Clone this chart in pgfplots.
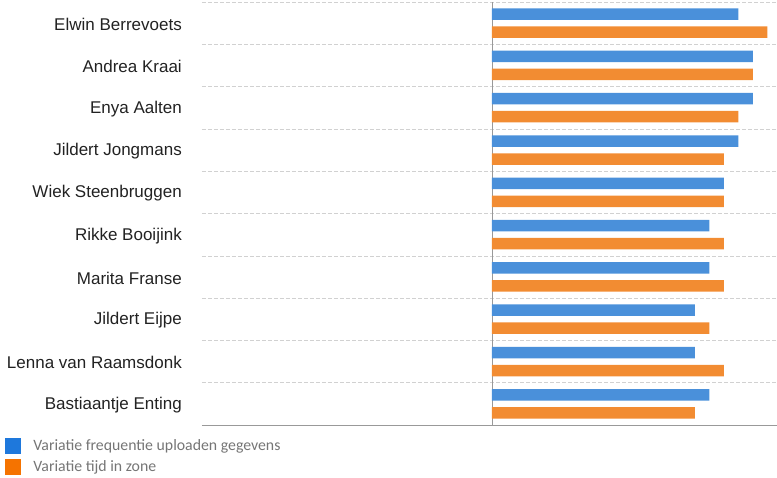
\documentclass[border=0pt]{standalone}
\usepackage{pgfplots}
\pgfplotsset{compat=1.18}
\usepackage{fontspec}
\setmainfont{Liberation Sans}
\newfontfamily\carlito{Carlito}
\definecolor{barblue}{HTML}{4A90DA}
\definecolor{barorange}{HTML}{F28C32}
\definecolor{legblue}{HTML}{1E78DC}
\definecolor{legorange}{HTML}{F57300}
\definecolor{labelgray}{HTML}{222222}
\definecolor{leggray}{HTML}{757575}

\begin{document}
\begin{tikzpicture}
\useasboundingbox (0,0) rectangle (777pt,477pt);
\begin{axis}[
  at={(202pt,52pt)}, anchor=south west,
  width=575pt, height=423pt, scale only axis,
  xmin=-20, xmax=19.66, ymin=-0.5, ymax=9.5,
  xbar, bar width=11.5pt,
  axis x line*=bottom, axis y line*=left,
  x axis line style={draw=black!40, -},
  y axis line style={draw=none},
  xtick=\empty,
  extra x ticks={0}, extra x tick labels={},
  extra x tick style={grid=major, major grid style={draw=black!40}},
  ytick={0,...,9},
  yticklabels={Bastiaantje Enting, Lenna van Raamsdonk, Jildert Eijpe, Marita Franse, Rikke Booijink, Wiek Steenbruggen, Jildert Jongmans, Enya Aalten, Andrea Kraai, Elwin Berrevoets},
  minor ytick={0.5,1.5,...,9.5},
  yminorgrids,
  minor grid style={draw=black!18, dash pattern=on 4pt off 2pt},
  major tick length=0pt, minor tick length=0pt,
  yticklabel style={font=\fontsize{17}{19}\selectfont, text=labelgray, inner sep=0pt, xshift=-20pt, yshift=-1pt},
  legend style={at={(axis description cs:-0.3426,-0.0307)}, anchor=north west,
    draw=none, fill=none, inner sep=0pt, outer sep=0pt, row sep=6pt,
    font=\carlito\fontsize{15.8}{17}\selectfont, text=leggray, nodes={inner sep=0pt}},
  legend cell align=left,
]
  % Variatie frequentie uploaden gegevens
  \addplot[fill=barblue, draw=none, bar shift=9pt, forget plot] coordinates {
    (15,0) (14,1) (14,2) (15,3) (15,4) (16,5) (17,6) (18,7) (18,8) (17,9)};
  % Variatie tijd in zone
  \addplot[fill=barorange, draw=none, bar shift=-9pt, forget plot] coordinates {
    (14,0) (16,1) (15,2) (16,3) (16,4) (16,5) (16,6) (17,7) (18,8) (19,9)};

  \addlegendimage{legend image code/.code={\fill[legblue] (0pt,-7.5pt) rectangle (15pt,7.5pt); \path (28pt,0pt);}}
  \addlegendentry{Variatie frequentie uploaden gegevens}
  \addlegendimage{legend image code/.code={\fill[legorange] (0pt,-7.5pt) rectangle (15pt,7.5pt); \path (28pt,0pt);}}
  \addlegendentry{Variatie tijd in zone}
\end{axis}
\end{tikzpicture}
\end{document}
